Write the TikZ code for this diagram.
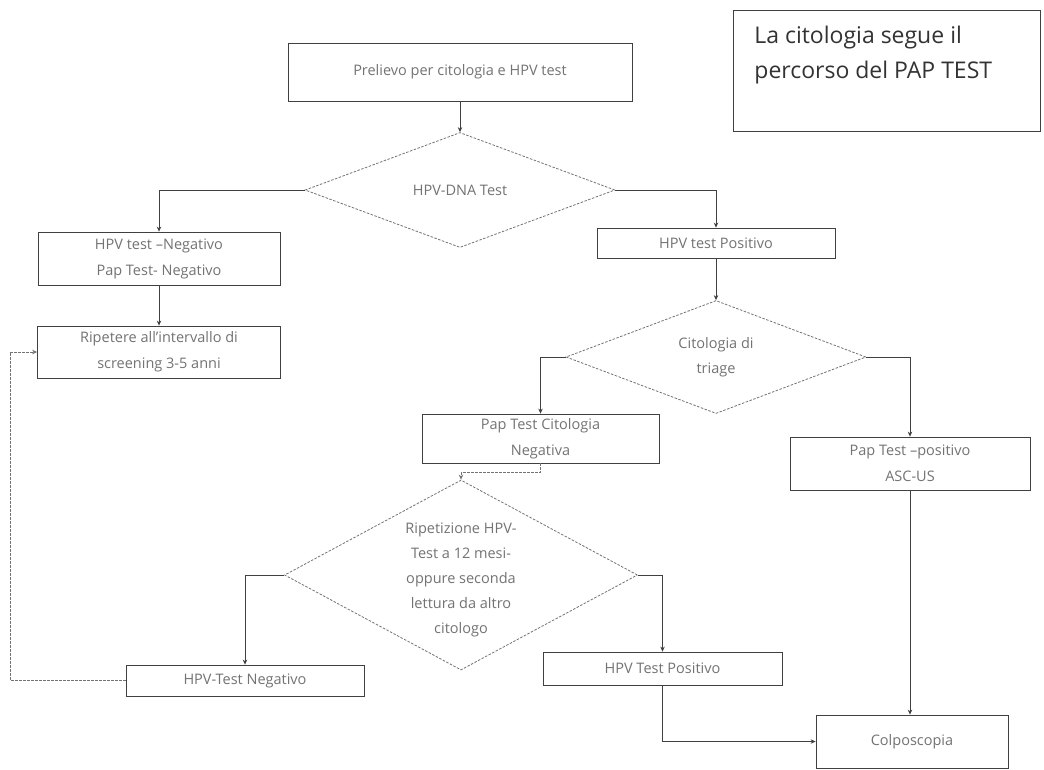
\documentclass[tikz,border=0pt]{standalone}
\usepackage{fontspec}
\setmainfont{Open Sans}
\usetikzlibrary{shapes.geometric,arrows.meta}
\definecolor{txt}{gray}{0.45}
\definecolor{edge}{gray}{0.25}
\definecolor{dedge}{gray}{0.45}
\tikzset{
  box/.style={draw=edge, line width=0.8pt, rectangle, inner sep=2pt, align=center,
    font=\fontsize{14.5}{26}\selectfont, text=txt},
  dia/.style={draw=dedge, line width=0.8pt, dash pattern=on 2.5pt off 1.5pt, diamond, inner sep=0pt},
  dtext/.style={font=\fontsize{14.5}{25}\selectfont, text=txt, align=center},
  conn/.style={draw=edge, line width=0.8pt, -{Stealth[length=5pt,width=4.5pt]}},
  fconn/.style={draw=dedge, line width=0.7pt, dash pattern=on 3pt off 1pt, -{Stealth[length=5pt,width=4.5pt]}}
}
\begin{document}
\begin{tikzpicture}[x=1pt,y=-1pt]
\useasboundingbox (0,0) rectangle (1044,769);
\fill[white] (0,0) rectangle (1044,769);

% note box
\node[draw=edge, line width=0.8pt, anchor=north west, inner xsep=21pt, inner ysep=8pt] (note) at (733,10)
  {\parbox[c][105pt][t]{265pt}{\vspace*{8pt}\fontsize{23}{35}\selectfont\color{black!80}La citologia segue il\\percorso del PAP TEST}};

\node[box, minimum width=344pt, minimum height=58pt] (top) at (460,72) {Prelievo per citologia e HPV test};
\node[dia, minimum width=310pt, minimum height=115pt, label={[dtext]center:HPV-DNA Test}] (d1) at (460,190) {};

\node[box, minimum width=242pt, minimum height=53pt] (neg) at (159,258.5) {HPV test –Negativo\\Pap Test- Negativo};
\node[box, minimum width=243pt, minimum height=52pt] (rip) at (159,352) {Ripetere all'intervallo di\\screening 3-5 anni};

\node[box, minimum width=238pt, minimum height=30pt] (pos) at (716,243) {HPV test Positivo};
\node[dia, minimum width=300pt, minimum height=113pt, label={[dtext]center:{Citologia di\\triage}}] (d2) at (716,357) {};

\node[box, minimum width=237pt, minimum height=49pt] (ptneg) at (540.5,438.5) {Pap Test Citologia\\Negativa};
\node[box, minimum width=240pt, minimum height=53pt] (ptpos) at (910,463.5) {Pap Test –positivo\\ASC-US};

\node[dia, minimum width=353pt, minimum height=190pt,
  label={[dtext,yshift=-5pt]center:{Ripetizione HPV-\\Test a 12 mesi-\\oppure seconda\\lettura da altro\\citologo}}] (d3) at (461,575) {};

\node[box, minimum width=238pt, minimum height=31pt] (hneg) at (245,680.5) {HPV-Test Negativo};
\node[box, minimum width=239pt, minimum height=33pt] (hpos) at (662.5,668.5) {HPV Test Positivo};
\node[box, minimum width=192pt, minimum height=53pt] (colpo) at (912,741.5) {Colposcopia};

\coordinate (loopc) at (10,680.5);

\draw[conn] (top.south) -- (d1.north);
\draw[conn] (d1.west) -| (neg.north);
\draw[conn] (d1.east) -| (pos.north);
\draw[conn] (neg.south) -- (rip.north);
\draw[conn] (pos.south) -- (d2.north);
\draw[conn] (d2.west) -| (ptneg.north);
\draw[conn] (d2.east) -| (ptpos.north);
\draw[fconn] (ptneg.south) -- ++(0,9) -| (d3.north);
\draw[conn] (d3.west) -| (hneg.north);
\draw[conn] (d3.east) -| (hpos.north);
\draw[fconn] (hneg.west) -- (loopc) |- (rip.west);
\draw[conn] (ptpos.south) -- (ptpos.south |- colpo.north);
\draw[conn] (hpos.south) |- (colpo.west);
\end{tikzpicture}
\end{document}
